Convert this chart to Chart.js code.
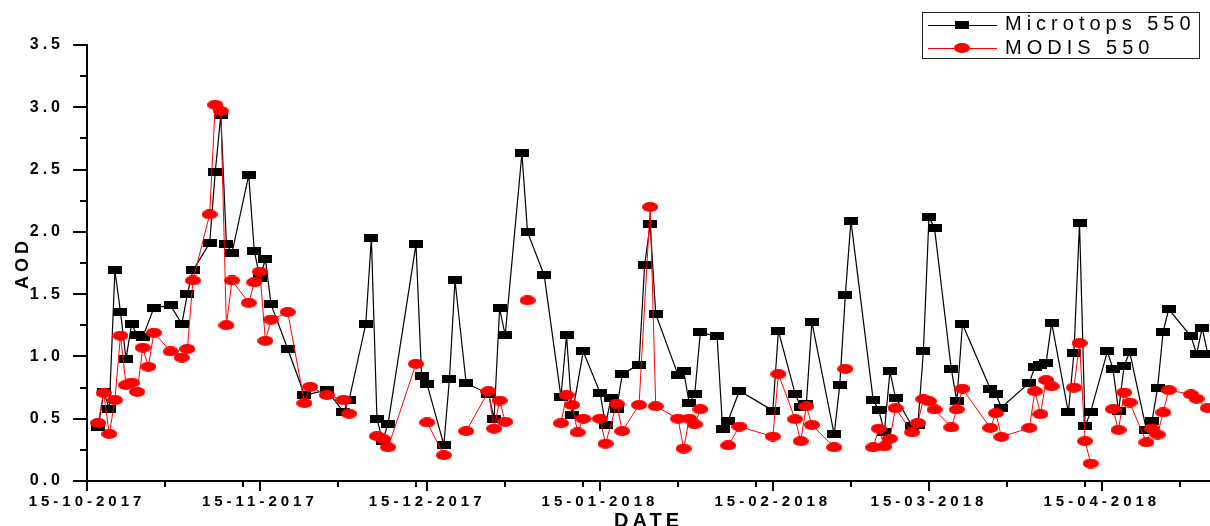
<!DOCTYPE html>
<html>
<head>
<meta charset="utf-8">
<script src="https://cdn.jsdelivr.net/npm/chart.js@4.4.0/dist/chart.umd.min.js"></script>
<style>
  html, body { margin: 0; padding: 0; background: #fff; }
  #wrap { width: 1210px; height: 526px; position: relative; }
</style>
</head>
<body>
<div id="wrap"><canvas id="aodChart"></canvas></div>
<script>
// Microtops 550 nm AOD (dd-mm-yyyy)
const microtopsDates = [
  '17-10-2017','18-10-2017','19-10-2017','20-10-2017','21-10-2017','22-10-2017','23-10-2017','24-10-2017','25-10-2017','27-10-2017','30-10-2017',
  '01-11-2017','02-11-2017','03-11-2017','06-11-2017','07-11-2017','08-11-2017','09-11-2017','10-11-2017','13-11-2017','14-11-2017','15-11-2017','16-11-2017','17-11-2017','20-11-2017','23-11-2017','27-11-2017','30-11-2017',
  '01-12-2017','04-12-2017','05-12-2017','06-12-2017','07-12-2017','08-12-2017','13-12-2017','14-12-2017','15-12-2017','18-12-2017','19-12-2017','20-12-2017','22-12-2017','26-12-2017','27-12-2017','28-12-2017','29-12-2017',
  '01-01-2018','02-01-2018','05-01-2018','08-01-2018','09-01-2018','10-01-2018','12-01-2018','15-01-2018','16-01-2018','17-01-2018','18-01-2018','19-01-2018','22-01-2018','23-01-2018','24-01-2018','25-01-2018','29-01-2018','30-01-2018','31-01-2018',
  '01-02-2018','02-02-2018','05-02-2018','06-02-2018','07-02-2018','09-02-2018','15-02-2018','16-02-2018','19-02-2018','20-02-2018','21-02-2018','22-02-2018','26-02-2018','27-02-2018','28-02-2018',
  '01-03-2018','05-03-2018','06-03-2018','07-03-2018','08-03-2018','09-03-2018','12-03-2018','13-03-2018','14-03-2018','15-03-2018','16-03-2018','19-03-2018','20-03-2018','21-03-2018','26-03-2018','27-03-2018','28-03-2018',
  '02-04-2018','03-04-2018','04-04-2018','05-04-2018','06-04-2018','09-04-2018','10-04-2018','11-04-2018','12-04-2018','13-04-2018','16-04-2018','17-04-2018','18-04-2018','19-04-2018','20-04-2018','23-04-2018','24-04-2018','25-04-2018','26-04-2018','27-04-2018',
  '01-05-2018','02-05-2018','03-05-2018','04-05-2018'
];
const microtopsAOD = [
  0.43,0.715,0.58,1.69,1.36,0.98,1.26,1.17,1.155,1.39,1.41,
  1.26,1.50,1.69,1.91,2.48,2.94,1.90,1.83,2.455,1.85,1.63,1.78,1.42,1.06,0.69,0.73,0.555,
  0.65,1.26,1.95,0.50,0.32,0.46,1.90,0.845,0.775,0.29,0.82,1.61,0.785,0.70,0.50,1.385,1.17,
  2.63,2.00,1.65,0.675,1.17,0.53,1.04,0.71,0.45,0.67,0.58,0.86,0.935,1.73,2.06,1.34,0.85,0.885,0.625,
  0.70,1.195,1.16,0.415,0.485,0.725,0.565,1.205,0.70,0.595,0.615,1.275,0.375,0.77,1.49,
  2.09,0.65,0.57,0.39,0.88,0.67,0.44,0.45,1.04,2.12,2.03,0.90,0.64,1.26,0.74,0.695,0.59,
  0.79,0.917,0.93,0.946,1.27,0.55,1.03,2.07,0.44,0.555,1.04,0.90,0.56,0.925,1.035,0.41,0.48,0.75,1.20,1.38,
  1.16,1.02,1.23,1.02
];

// MODIS 550 nm AOD, null = no retrieval (line breaks there)
const modisDates = [
  '17-10-2017','18-10-2017','19-10-2017','20-10-2017','21-10-2017','22-10-2017','23-10-2017','24-10-2017','25-10-2017','26-10-2017','27-10-2017','30-10-2017',
  '01-11-2017','02-11-2017','03-11-2017','06-11-2017','07-11-2017','08-11-2017','09-11-2017','10-11-2017','13-11-2017','14-11-2017','15-11-2017','16-11-2017','17-11-2017','20-11-2017','23-11-2017','24-11-2017','27-11-2017','30-11-2017',
  '01-12-2017','03-12-2017','06-12-2017','07-12-2017','08-12-2017','13-12-2017','14-12-2017','15-12-2017','18-12-2017','20-12-2017','22-12-2017','26-12-2017','27-12-2017','28-12-2017','29-12-2017','31-12-2017',
  '02-01-2018','05-01-2018','08-01-2018','09-01-2018','10-01-2018','11-01-2018','12-01-2018','15-01-2018','16-01-2018','18-01-2018','19-01-2018','22-01-2018','24-01-2018','25-01-2018','29-01-2018','30-01-2018','31-01-2018',
  '01-02-2018','02-02-2018','04-02-2018','07-02-2018','09-02-2018','15-02-2018','16-02-2018','19-02-2018','20-02-2018','21-02-2018','22-02-2018','26-02-2018','27-02-2018','28-02-2018',
  '03-03-2018','05-03-2018','06-03-2018','07-03-2018','08-03-2018','09-03-2018','12-03-2018','13-03-2018','14-03-2018','15-03-2018','16-03-2018','19-03-2018','20-03-2018','21-03-2018','26-03-2018','27-03-2018','28-03-2018',
  '02-04-2018','03-04-2018','04-04-2018','05-04-2018','06-04-2018','08-04-2018','10-04-2018','11-04-2018','12-04-2018','13-04-2018','15-04-2018','17-04-2018','18-04-2018','19-04-2018','20-04-2018','23-04-2018','24-04-2018','25-04-2018','26-04-2018','27-04-2018',
  '01-05-2018','02-05-2018','04-05-2018'
];
const modisAOD = [
  0.466,0.707,0.378,0.65,1.166,0.77,0.79,0.715,1.07,0.917,1.19,1.04,
  0.99,1.06,1.61,2.14,3.02,2.97,1.25,1.61,1.43,1.595,1.68,1.125,1.295,1.356,0.625,0.756,0.69,0.65,
  0.54,null,0.36,0.34,0.27,0.94,null,0.47,0.207,null,0.40,0.72,0.42,0.646,0.475,null,
  1.45,null,0.464,0.69,0.61,0.39,0.50,0.50,0.30,0.62,0.40,0.61,2.20,0.60,0.50,0.26,0.50,
  0.455,0.576,null,0.285,0.437,0.357,0.858,0.496,0.32,0.60,0.45,0.27,null,0.90,
  null,0.27,0.42,0.277,0.34,0.585,0.39,0.466,0.657,0.64,0.574,0.43,0.574,0.74,0.426,0.544,0.354,
  0.426,0.72,0.536,0.81,0.76,null,0.75,1.107,0.32,0.14,null,0.576,0.41,0.71,0.63,0.31,0.42,0.373,0.55,0.73,
  0.695,0.66,0.585
];

const xTickLabels = ['15-10-2017','15-11-2017','15-12-2017','15-01-2018','15-02-2018','15-03-2018','15-04-2018'];
const xMinorTickDates = ['29-10-2017','12-11-2017','29-11-2017','13-12-2017','29-12-2017','12-01-2018','29-01-2018','12-02-2018','01-03-2018','29-03-2018','12-04-2018','29-04-2018'];
const xEndDate = '04-05-2018';
const yMax = 3.5;
const yTickStep = 0.5;
const yMinorStep = 0.25;

// days since first tick date
const START = Date.UTC(2017, 9, 15);
function toDay(s) {
  const [d, m, y] = s.split('-').map(Number);
  return (Date.UTC(y, m - 1, d) - START) / 86400000;
}
function dayLabel(day) {
  const dt = new Date(START + day * 86400000);
  const p = n => String(n).padStart(2, '0');
  return p(dt.getUTCDate()) + '-' + p(dt.getUTCMonth() + 1) + '-' + dt.getUTCFullYear();
}

function marker(w, h, color, shape) {
  const c = document.createElement('canvas');
  c.width = w; c.height = h;
  const g = c.getContext('2d');
  g.fillStyle = color;
  if (shape === 'ellipse') {
    g.beginPath();
    g.ellipse(w / 2, h / 2, w / 2, h / 2, 0, 0, Math.PI * 2);
    g.fill();
  } else {
    g.fillRect(0, 0, w, h);
  }
  return c;
}
const squareMark = marker(14, 8, '#000', 'rect');
const dotMark = marker(16, 10, '#ff0000', 'ellipse');

const spacing = {
  id: 'spacing',
  beforeLayout(chart) { chart.ctx.letterSpacing = '4px'; },
  beforeDraw(chart) { chart.ctx.letterSpacing = '4px'; }
};

const axisTicks = {
  id: 'axisTicks',
  afterDraw(chart) {
    const { ctx, chartArea, scales: { x, y } } = chart;
    ctx.save();
    ctx.strokeStyle = '#000';
    ctx.lineWidth = 2;
    ctx.beginPath();
    for (let v = 0; v <= yMax + 1e-9; v += yMinorStep) {
      const py = Math.round(y.getPixelForValue(v));
      const major = Math.abs(v / yTickStep - Math.round(v / yTickStep)) < 1e-6;
      ctx.moveTo(chartArea.left - (major ? 14 : 7), py);
      ctx.lineTo(chartArea.left, py);
    }
    xTickLabels.forEach(s => {
      const px = Math.round(x.getPixelForValue(toDay(s)));
      ctx.moveTo(px, chartArea.bottom);
      ctx.lineTo(px, chartArea.bottom + 10);
    });
    xMinorTickDates.forEach(s => {
      const px = Math.round(x.getPixelForValue(toDay(s)));
      ctx.moveTo(px, chartArea.bottom);
      ctx.lineTo(px, chartArea.bottom + 6);
    });
    ctx.stroke();
    ctx.restore();
  }
};

const boxLegend = {
  id: 'boxLegend',
  afterDraw(chart) {
    const ctx = chart.ctx;
    const right = chart.width - 11, top = 12, w = 277, h = 46;
    const left = right - w;
    const rows = [
      { ds: chart.data.datasets[0], y: top + 12.5, mark: squareMark, color: '#000' },
      { ds: chart.data.datasets[1], y: top + 36, mark: dotMark, color: '#ff0000' }
    ];
    ctx.save();
    ctx.fillStyle = '#fff';
    ctx.fillRect(left, top, w, h);
    ctx.strokeStyle = '#222';
    ctx.lineWidth = 1;
    ctx.strokeRect(left + 0.5, top + 0.5, w, h);
    ctx.font = "20px 'Liberation Sans', Arial, sans-serif";
    ctx.letterSpacing = '5px';
    ctx.textBaseline = 'middle';
    ctx.textAlign = 'left';
    rows.forEach(r => {
      ctx.strokeStyle = r.color;
      ctx.beginPath();
      ctx.moveTo(left + 6, Math.round(r.y) + 0.5);
      ctx.lineTo(left + 75, Math.round(r.y) + 0.5);
      ctx.stroke();
      ctx.drawImage(r.mark, left + 40 - r.mark.width / 2, r.y - r.mark.height / 2);
      ctx.fillStyle = '#000';
      ctx.fillText(r.ds.label, left + 83, r.y);
    });
    ctx.restore();
  }
};

Chart.defaults.font.family = "'Liberation Sans', Arial, sans-serif";
Chart.defaults.color = '#000';

new Chart(document.getElementById('aodChart'), {
  type: 'line',
  data: {
    datasets: [
      {
        label: 'Microtops 550',
        data: microtopsDates.map((d, i) => ({ x: toDay(d), y: microtopsAOD[i] })),
        borderColor: '#000',
        borderWidth: 1.2,
        pointStyle: squareMark,
        pointRadius: 7,
        tension: 0,
        clip: false,
        order: 1
      },
      {
        label: 'MODIS 550',
        data: modisDates.map((d, i) => ({ x: toDay(d), y: modisAOD[i] })),
        borderColor: '#ff0000',
        borderWidth: 1,
        pointStyle: dotMark,
        pointRadius: 8,
        tension: 0,
        spanGaps: false,
        clip: false,
        order: 0
      }
    ]
  },
  options: {
    responsive: true,
    maintainAspectRatio: false,
    animation: false,
    events: [],
    layout: { autoPadding: false, padding: { top: 45, right: 0, left: 0, bottom: 0 } },
    plugins: { legend: { display: false }, tooltip: { enabled: false } },
    scales: {
      x: {
        type: 'linear',
        min: 0,
        max: toDay(xEndDate) + 0.4,
        afterFit(scale) { scale.height = 45; },
        afterBuildTicks(scale) { scale.ticks = xTickLabels.map(s => ({ value: toDay(s) })); },
        border: { display: true, color: '#000', width: 2 },
        grid: { display: false },
        ticks: {
          autoSkip: false,
          maxRotation: 0,
          padding: 4,
          font: { size: 15, weight: 'bold' },
          callback: v => dayLabel(v)
        },
        title: {
          display: true,
          text: 'DATE',
          font: { size: 20, weight: 'bold', lineHeight: 1 },
          padding: { top: 0, bottom: -5 }
        }
      },
      y: {
        min: 0,
        max: yMax,
        afterFit(scale) { scale.width = 87; },
        border: { display: true, color: '#000', width: 2 },
        grid: { display: false },
        ticks: {
          stepSize: yTickStep,
          padding: 15,
          font: { size: 16, weight: 'bold' },
          callback: v => v.toFixed(1)
        },
        title: {
          display: true,
          text: 'AOD',
          font: { size: 18, weight: 'bold' },
          padding: { top: 12, bottom: 0 }
        }
      }
    }
  },
  plugins: [spacing, axisTicks, boxLegend]
});
</script>
</body>
</html>
